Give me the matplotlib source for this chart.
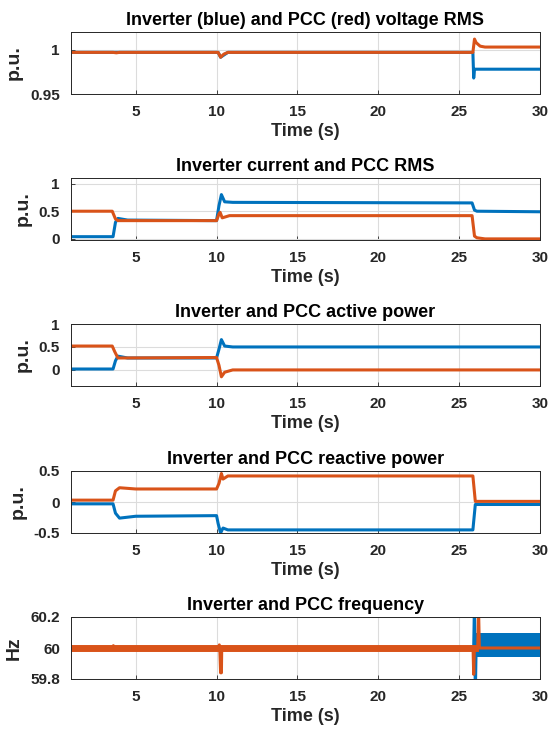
import numpy as np
import matplotlib.pyplot as plt

plt.rcParams['font.family'] = ['Liberation Sans', 'DejaVu Sans']
plt.rcParams['font.weight'] = 'bold'

BLUE = '#0072BD'
RED = '#D95319'

# ---- voltage RMS (p.u.) ----
v_t_red = [1, 3.6, 3.8, 4.0, 10.1, 10.25, 10.45, 10.7, 25.85, 25.95, 26.05, 26.3, 26.6, 30]
v_red = [0.997, 0.997, 0.9965, 0.997, 0.997, 0.9915, 0.995, 0.997, 0.997, 1.012, 1.008, 1.004, 1.003, 1.003]
v_t_blue = [1, 10.1, 10.25, 10.7, 25.85, 25.9, 25.95, 26.05, 30]
v_blue = [0.997, 0.997, 0.9915, 0.997, 0.997, 0.968, 0.978, 0.978, 0.978]

# ---- current RMS (p.u.) ----
i_t_red = [1, 3.55, 3.75, 3.9, 10.0, 10.15, 10.22, 10.35, 10.8, 25.8, 25.95, 26.1, 26.6, 30]
i_red = [0.5, 0.5, 0.36, 0.33, 0.33, 0.45, 0.48, 0.38, 0.42, 0.42, 0.05, 0.02, 0.0, 0.0]
i_t_blue = [1, 3.6, 3.75, 3.9, 4.5, 10.0, 10.15, 10.3, 10.5, 11, 25.8, 25.95, 26.1, 30]
i_blue = [0.04, 0.04, 0.3, 0.37, 0.34, 0.33, 0.6, 0.8, 0.67, 0.66, 0.65, 0.52, 0.5, 0.49]

# ---- active power (p.u.) ----
p_t_red = [1, 3.55, 3.7, 3.9, 10.0, 10.15, 10.3, 10.5, 11, 30]
p_red = [0.52, 0.52, 0.4, 0.26, 0.27, 0.1, -0.15, -0.05, 0.0, 0.0]
p_t_blue = [1, 3.6, 3.75, 3.9, 4.5, 10.0, 10.15, 10.3, 10.5, 11, 30]
p_blue = [0.02, 0.02, 0.2, 0.3, 0.26, 0.26, 0.45, 0.66, 0.52, 0.5, 0.5]

# ---- reactive power (p.u.) ----
q_t_red = [1, 3.6, 3.75, 4.0, 5.0, 10.0, 10.15, 10.3, 10.4, 10.7, 25.85, 26.0, 30]
q_red = [0.03, 0.03, 0.18, 0.23, 0.21, 0.21, 0.3, 0.46, 0.37, 0.42, 0.42, 0.01, 0.01]
q_t_blue = [1, 3.6, 3.75, 4.0, 5.0, 10.0, 10.1, 10.25, 10.4, 10.7, 25.85, 26.0, 30]
q_blue = [-0.03, -0.03, -0.18, -0.26, -0.23, -0.22, -0.35, -0.5, -0.42, -0.45, -0.45, -0.04, -0.04]

# ---- frequency (Hz) ----
f_base_t = [1, 25.95]
f_base = [60.0, 60.0]
f_t_red = [1, 3.6, 3.62, 3.64, 10.15, 10.17, 10.2, 10.25, 10.3, 10.32, 25.86, 25.9, 25.94, 26.15, 26.2, 26.25, 30]
f_red = [60.0, 60.0, 60.015, 60.0, 60.0, 60.02, 60.0, 59.84, 59.84, 60.0, 60.0, 59.83, 60.0, 60.0, 60.25, 60.0, 60.0]
f_t_blue = [1, 25.9, 25.95, 26.0, 26.05]
f_blue = [60.0, 60.0, 60.3, 59.7, 60.0]
f_band_t = [26.05, 30]
f_band_hi = [60.1, 60.1]
f_band_lo = [59.945, 59.945]

W, H = 553, 733
fig = plt.figure(figsize=(W / 100, H / 100), dpi=100)

L, R = 71, 540
tops = [32, 178, 324, 471, 617]
hgt = 62


def make_ax(i, title, ylab):
    ax = fig.add_axes([L / W, 1 - (tops[i] + hgt) / H, (R - L) / W, hgt / H])
    ax.set_xlim(1, 30)
    ax.set_xticks([5, 10, 15, 20, 25, 30])
    ax.grid(True, color='#dcdcdc', lw=0.8)
    ax.set_axisbelow(True)
    ax.tick_params(direction='in', length=3, width=0.6, labelsize=11, pad=8, colors='#262626')
    for s in ax.spines.values():
        s.set_color('#262626')
        s.set_linewidth(0.7)
    ax.set_xlabel('Time (s)', fontsize=13, fontweight='bold', labelpad=3, color='#262626')
    ax.set_ylabel(ylab, fontsize=14, fontweight='bold', labelpad=5, color='#262626')
    ax.set_title(title, fontsize=13, fontweight='bold', pad=5)
    return ax


lw = 2.2

ax = make_ax(0, 'Inverter (blue) and PCC (red) voltage RMS', 'p.u.')
ax.plot(v_t_blue, v_blue, color=BLUE, lw=lw)
ax.plot(v_t_red, v_red, color=RED, lw=lw)
ax.set_ylim(0.95, 1.02)
ax.set_yticks([0.95, 1])
ax.set_yticklabels(['0.95', '1'], fontweight='bold')

ax = make_ax(1, 'Inverter current and PCC RMS', 'p.u.')
ax.plot(i_t_blue, i_blue, color=BLUE, lw=lw)
ax.plot(i_t_red, i_red, color=RED, lw=lw)
ax.set_ylim(-0.02, 1.1)
ax.set_yticks([0, 0.5, 1])
ax.set_yticklabels(['0', '0.5', '1'], fontweight='bold')

ax = make_ax(2, 'Inverter and PCC active power', 'p.u.')
ax.plot(p_t_blue, p_blue, color=BLUE, lw=lw)
ax.plot(p_t_red, p_red, color=RED, lw=lw)
ax.set_ylim(-0.35, 1)
ax.set_yticks([0, 0.5, 1])
ax.set_yticklabels(['0', '0.5', '1'], fontweight='bold')

ax = make_ax(3, 'Inverter and PCC reactive power', 'p.u.')
ax.plot(q_t_blue, q_blue, color=BLUE, lw=lw)
ax.plot(q_t_red, q_red, color=RED, lw=lw)
ax.set_ylim(-0.5, 0.5)
ax.set_yticks([-0.5, 0, 0.5])
ax.set_yticklabels(['-0.5', '0', '0.5'], fontweight='bold')

ax = make_ax(4, 'Inverter and PCC frequency', 'Hz')
ax.fill_between(f_band_t, f_band_lo, f_band_hi, color=BLUE, lw=0)
ax.plot(f_t_blue, f_blue, color=BLUE, lw=lw)
ax.plot(f_base_t, f_base, color=RED, lw=5)
ax.plot(f_t_red, f_red, color=RED, lw=lw)
ax.set_ylim(59.8, 60.2)
ax.set_yticks([59.8, 60, 60.2])
ax.set_yticklabels(['59.8', '60', '60.2'], fontweight='bold')

fig.savefig('out.png', dpi=100)
